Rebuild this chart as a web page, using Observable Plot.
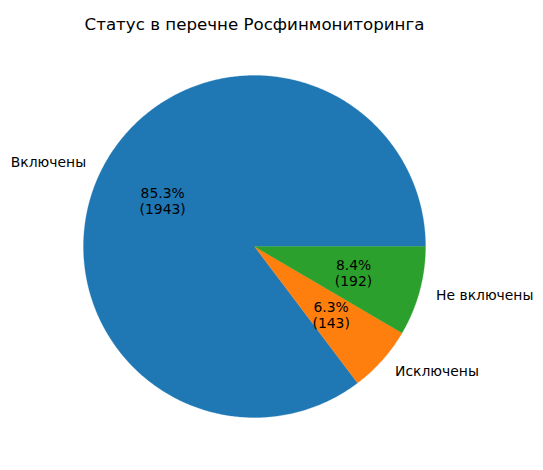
<!DOCTYPE html>
<html>
<head>
<meta charset="utf-8">
<script src="https://cdn.jsdelivr.net/npm/d3@7"></script>
<script src="https://cdn.jsdelivr.net/npm/@observablehq/plot@0.6"></script>
<style>
  body { margin: 0; background: #fff; }
</style>
</head>
<body>
<div id="chart"></div>
<script>
const title = "Статус в перечне Росфинмониторинга";
const categories = ["Включены", "Исключены", "Не включены"];
const values = [1943, 143, 192];
const colors = ["#1f77b4", "#ff7f0e", "#2ca02c"];

const W = 543, H = 470;
const cx = 254, cy = 246, R = 171;
const total = d3.sum(values);

// matplotlib-style: start at 0 rad (3 o'clock), counterclockwise
let acc = 0;
const slices = values.map((v, i) => {
  const a0 = acc / total * 2 * Math.PI;
  acc += v;
  const a1 = acc / total * 2 * Math.PI;
  return {cat: categories[i], value: v, a0, a1, mid: (a0 + a1) / 2, color: colors[i]};
});

const poly = [];
for (const s of slices) {
  poly.push({cat: s.cat, x: 0, y: 0});
  const n = Math.max(2, Math.ceil((s.a1 - s.a0) / (Math.PI / 360)));
  for (let k = 0; k <= n; k++) {
    const a = s.a0 + (s.a1 - s.a0) * k / n;
    poly.push({cat: s.cat, x: Math.cos(a), y: Math.sin(a)});
  }
  poly.push({cat: s.cat, x: 0, y: 0});
}

const labels = slices.map(s => ({
  text: s.cat,
  x: 1.1 * Math.cos(s.mid),
  y: 1.1 * Math.sin(s.mid),
  anchor: Math.cos(s.mid) >= 0 ? "start" : "end"
}));
const pcts = slices.map(s => ({
  text: `${(s.value / total * 100).toFixed(1)}%\n(${s.value})`,
  x: 0.6 * Math.cos(s.mid),
  y: 0.6 * Math.sin(s.mid)
}));

const font = "DejaVu Sans, sans-serif";
const chart = Plot.plot({
  width: W,
  height: H,
  margin: 0,
  style: {fontFamily: font, background: "#fff"},
  x: {domain: [-cx / R, (W - cx) / R], axis: null},
  y: {domain: [-(H - cy) / R, cy / R], axis: null},
  color: {domain: categories, range: colors},
  marks: [
    Plot.line(poly, {x: "x", y: "y", z: "cat", fill: "cat", stroke: "cat", strokeWidth: 0.3, curve: "linear"}),
    Plot.text(labels.filter(d => d.anchor === "end"), {x: "x", y: "y", text: "text", textAnchor: "end", fontSize: 13.9, fill: "black"}),
    Plot.text(labels.filter(d => d.anchor === "start"), {x: "x", y: "y", text: "text", textAnchor: "start", fontSize: 13.9, fill: "black"}),
    Plot.text(pcts, {x: "x", y: "y", text: "text", textAnchor: "middle", lineHeight: 1.15, fontSize: 13.9, fill: "black"}),
    Plot.text([title], {frameAnchor: "top", dx: cx - W / 2, dy: 18, text: d => d, fontSize: 16.67, fill: "black"})
  ]
});
document.getElementById("chart").appendChild(chart);
</script>
</body>
</html>
